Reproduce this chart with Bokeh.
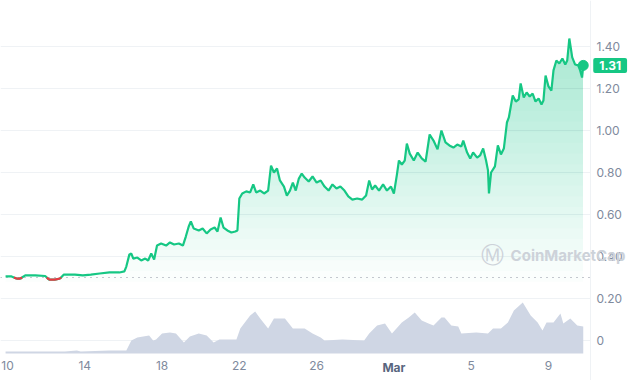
import numpy as np
from bokeh.plotting import figure
from bokeh.models import Range1d, FixedTicker, CustomJSTickFormatter, Label, LinearAxis, Grid
from bokeh.embed import file_html
from bokeh.resources import INLINE

# ---- data (x = day of Feb 2024; Mar 1 = 30) ----
price_day = [
    9.90, 10.21, 10.46, 10.67, 10.92, 11.44, 11.95, 12.15, 12.46, 12.72,
    12.92, 13.49, 13.90, 14.31, 14.77, 15.28, 15.79, 16.05, 16.15, 16.31,
    16.41, 16.51, 16.72, 16.92, 17.13, 17.28, 17.44, 17.59, 17.74, 17.95,
    18.21, 18.41, 18.62, 18.87, 19.08, 19.23, 19.38, 19.49, 19.64, 19.90,
    20.10, 20.31, 20.51, 20.72, 20.87, 21.03, 21.18, 21.38, 21.59, 21.79,
    21.90, 22.00, 22.15, 22.36, 22.56, 22.72, 22.87, 23.08, 23.28, 23.49,
    23.64, 23.79, 23.95, 24.10, 24.31, 24.46, 24.62, 24.77, 24.92, 25.08,
    25.23, 25.38, 25.59, 25.79, 26.00, 26.21, 26.41, 26.62, 26.82, 27.03,
    27.23, 27.44, 27.64, 27.85, 28.10, 28.36, 28.56, 28.72, 28.87, 29.03,
    29.23, 29.44, 29.64, 29.85, 30.00, 30.15, 30.26, 30.41, 30.56, 30.67,
    30.82, 31.03, 31.23, 31.44, 31.64, 31.85, 32.05, 32.26, 32.46, 32.67,
    32.87, 33.08, 33.28, 33.49, 33.59, 33.79, 33.95, 34.10, 34.31, 34.46,
    34.62, 34.77, 34.87, 34.92, 35.03, 35.23, 35.38, 35.54, 35.69, 35.85,
    35.95, 36.15, 36.31, 36.46, 36.56, 36.72, 36.87, 37.03, 37.18, 37.33,
    37.49, 37.64, 37.74, 37.85, 38.00, 38.15, 38.26, 38.41, 38.56, 38.72,
    38.87, 38.97, 39.08, 39.23, 39.38, 39.54, 39.64, 39.74, 39.80,
]
price = [
    0.305, 0.305, 0.295, 0.295, 0.310, 0.310, 0.307, 0.290, 0.290, 0.295,
    0.314, 0.314, 0.310, 0.314, 0.319, 0.324, 0.324, 0.329, 0.352, 0.410,
    0.414, 0.390, 0.395, 0.381, 0.390, 0.381, 0.414, 0.386, 0.452, 0.462,
    0.452, 0.467, 0.457, 0.462, 0.452, 0.495, 0.543, 0.567, 0.533, 0.524,
    0.533, 0.510, 0.529, 0.538, 0.519, 0.586, 0.538, 0.524, 0.514, 0.519,
    0.524, 0.676, 0.700, 0.710, 0.705, 0.743, 0.705, 0.714, 0.700, 0.714,
    0.833, 0.800, 0.819, 0.762, 0.733, 0.690, 0.714, 0.752, 0.714, 0.771,
    0.795, 0.776, 0.757, 0.781, 0.752, 0.762, 0.733, 0.714, 0.743, 0.724,
    0.733, 0.714, 0.686, 0.671, 0.676, 0.671, 0.690, 0.762, 0.719, 0.738,
    0.714, 0.743, 0.714, 0.733, 0.700, 0.786, 0.857, 0.838, 0.857, 0.938,
    0.890, 0.857, 0.895, 0.867, 0.852, 0.981, 0.952, 0.910, 1.000, 0.943,
    0.929, 0.919, 0.933, 0.924, 0.952, 0.895, 0.867, 0.895, 0.871, 0.881,
    0.914, 0.857, 0.810, 0.700, 0.800, 0.829, 0.929, 0.886, 0.914, 1.038,
    1.062, 1.167, 1.138, 1.148, 1.224, 1.157, 1.181, 1.162, 1.176, 1.138,
    1.152, 1.124, 1.143, 1.262, 1.210, 1.190, 1.286, 1.333, 1.319, 1.343,
    1.314, 1.333, 1.438, 1.348, 1.314, 1.310, 1.286, 1.252, 1.310,
]
vol_day = [
    9.90, 11.44, 12.97, 13.59, 13.79, 15.28, 16.15, 16.41, 16.72, 17.33,
    17.54, 17.69, 18.00, 18.41, 18.72, 19.13, 19.44, 19.90, 20.31, 20.67,
    20.97, 21.85, 22.05, 22.56, 22.82, 23.08, 23.49, 23.79, 24.36, 24.77,
    25.38, 25.79, 26.21, 26.41, 27.33, 28.46, 28.72, 29.13, 29.54, 29.90,
    30.41, 30.77, 31.08, 31.44, 31.79, 32.05, 32.46, 32.62, 32.97, 33.33,
    33.49, 34.26, 34.87, 35.13, 35.54, 35.90, 36.21, 36.67, 37.08, 37.44,
    37.69, 37.90, 38.26, 38.62, 38.77, 39.13, 39.49, 39.80,
]
volume = [  # 24h volume, $M
    6, 6, 6, 9, 6, 9, 9, 39, 48, 54,
    39, 42, 60, 63, 60, 33, 51, 60, 54, 33,
    42, 42, 75, 114, 126, 105, 75, 105, 105, 75,
    75, 60, 48, 39, 42, 39, 60, 84, 90, 60,
    93, 108, 123, 99, 90, 84, 108, 108, 84, 81,
    60, 63, 60, 75, 75, 93, 129, 153, 114, 93,
    69, 93, 93, 120, 90, 105, 84, 81,
]
open_price = 0.30
y_ticks = [0, 0.2, 0.4, 0.6, 0.8, 1.0, 1.2, 1.4]
x_ticks = [10, 14, 18, 22, 26, 30, 34, 38]
x_tick_labels = ["10", "14", "18", "22", "26", "Mar", "5", "9"]

GREEN = "#16c784"
RED = "#ea3943"
GREY = "#808a9d"
FONT = "Inter"

# plot area limits (the axes sit at fixed positions inside the canvas)
X0, X1 = 9.638, 42.246          # canvas x extent in days
XR = 40.176                     # price-area right edge (y axis position)
Y0, Y1 = -0.1905, 1.619         # canvas y extent in price units
YB = -0.062                     # volume baseline / x axis position

p = figure(width=630, height=380, output_backend="svg", toolbar_location=None,
           x_range=Range1d(X0, X1), y_range=Range1d(Y0, Y1),
           x_axis_location=None, y_axis_location=None,
           min_border_left=0, min_border_top=0, min_border_right=0, min_border_bottom=0)
p.outline_line_color = None
p.background_fill_color = "white"
p.border_fill_color = "white"
for g in p.grid:
    g.visible = False

# axes drawn at fixed locations
ya = LinearAxis(fixed_location=XR)
xa = LinearAxis(fixed_location=YB)
p.add_layout(ya, "right")
p.add_layout(xa, "below")

# horizontal grid, limited to the price area
yg = Grid(dimension=1, ticker=FixedTicker(ticks=y_ticks), grid_line_color="#eff2f5")
try:
    yg.cross_bounds = (X0, XR)
except Exception:
    pass
p.add_layout(yg)

# volume area on its own scale
p.extra_y_ranges = {"vol": Range1d(-81, 1059)}
p.varea(x=vol_day, y1=0, y2=volume, y_range_name="vol", fill_color="#cfd6e4")

# gradient fill under the price line (stacked translucent layers)
pr = np.array(price)
for lo in np.linspace(0.28, 1.45, 24):
    p.varea(x=price_day, y1=lo, y2=np.maximum(pr, lo), fill_color=GREEN, fill_alpha=0.014)

# baseline (open price), dotted
p.line(x=[X0, XR], y=[open_price, open_price], line_color="#8c93a0",
       line_dash="1 5", line_width=1)

# price line
p.line(price_day, price, line_color=GREEN, line_width=2.2)

# red parts below the open price
xs, ys = [], []
d = price_day
for i in range(len(pr) - 1):
    y0, y1 = pr[i], pr[i + 1]
    b0, b1 = y0 < open_price, y1 < open_price
    if b0 and b1:
        xs.append([d[i], d[i + 1]]); ys.append([y0, y1])
    elif b0 or b1:
        t = (open_price - y0) / (y1 - y0)
        xc = d[i] + t * (d[i + 1] - d[i])
        if b0:
            xs.append([d[i], xc]); ys.append([y0, open_price])
        else:
            xs.append([xc, d[i + 1]]); ys.append([open_price, y1])
if xs:
    p.multi_line(xs, ys, line_color=RED, line_width=2.2)

# end dot
p.scatter([price_day[-1]], [price[-1]], size=10, color=GREEN)

# y axis (right)
ya.ticker = FixedTicker(ticks=y_ticks)
ya.formatter = CustomJSTickFormatter(code="return tick == 0 ? '0' : tick.toFixed(2);")
ya.major_label_text_font = FONT
ya.major_label_text_font_size = "12px"
ya.major_label_text_color = GREY
ya.major_tick_line_color = None
ya.minor_tick_line_color = None
ya.major_tick_out = 0
ya.major_tick_in = 0
ya.minor_tick_out = 0
ya.minor_tick_in = 0
ya.axis_line_color = "#eff2f5"
ya.major_label_standoff = 6

# x axis
xa.ticker = FixedTicker(ticks=x_ticks)
xa.major_label_overrides = {t: ("" if l == "Mar" else l) for t, l in zip(x_ticks, x_tick_labels)}
xa.major_label_text_font = FONT
xa.major_label_text_font_size = "12px"
xa.major_label_text_color = GREY
xa.major_tick_line_color = None
xa.minor_tick_line_color = None
xa.major_tick_out = 0
xa.major_tick_in = 0
xa.minor_tick_out = 0
xa.minor_tick_in = 0
xa.axis_line_color = None
xa.major_label_standoff = 7

# bold month label
for t, l in zip(x_ticks, x_tick_labels):
    if l == "Mar":
        p.add_layout(Label(x=t, y=YB, y_offset=-14, text=l, text_align="center",
                           text_baseline="middle", text_font=FONT, text_font_size="12px",
                           text_font_style="bold", text_color="#58667e"))

# watermark
p.add_layout(Label(x=35.10, y=0.405, text="Ⓜ", text_align="center", text_baseline="middle",
                   text_font="DejaVu Sans", text_font_size="23px", text_color="#cdd2d9"))
p.add_layout(Label(x=36.04, y=0.405, text="CoinMarketCap", text_align="left",
                   text_baseline="middle", text_font=FONT, text_font_size="15px",
                   text_font_style="bold", text_color="#cdd2d9"))

# last price tag
p.add_layout(Label(x=price_day[-1], y=price[-1], text="%.2f" % price[-1], x_offset=10,
                   text_align="left", text_baseline="middle", text_font=FONT,
                   text_font_size="12px", text_font_style="bold", text_color="white",
                   background_fill_color=GREEN, padding=dict(left=6, right=6, top=3, bottom=3),
                   border_radius=2))

open("out.html", "w").write(file_html(p, INLINE))
